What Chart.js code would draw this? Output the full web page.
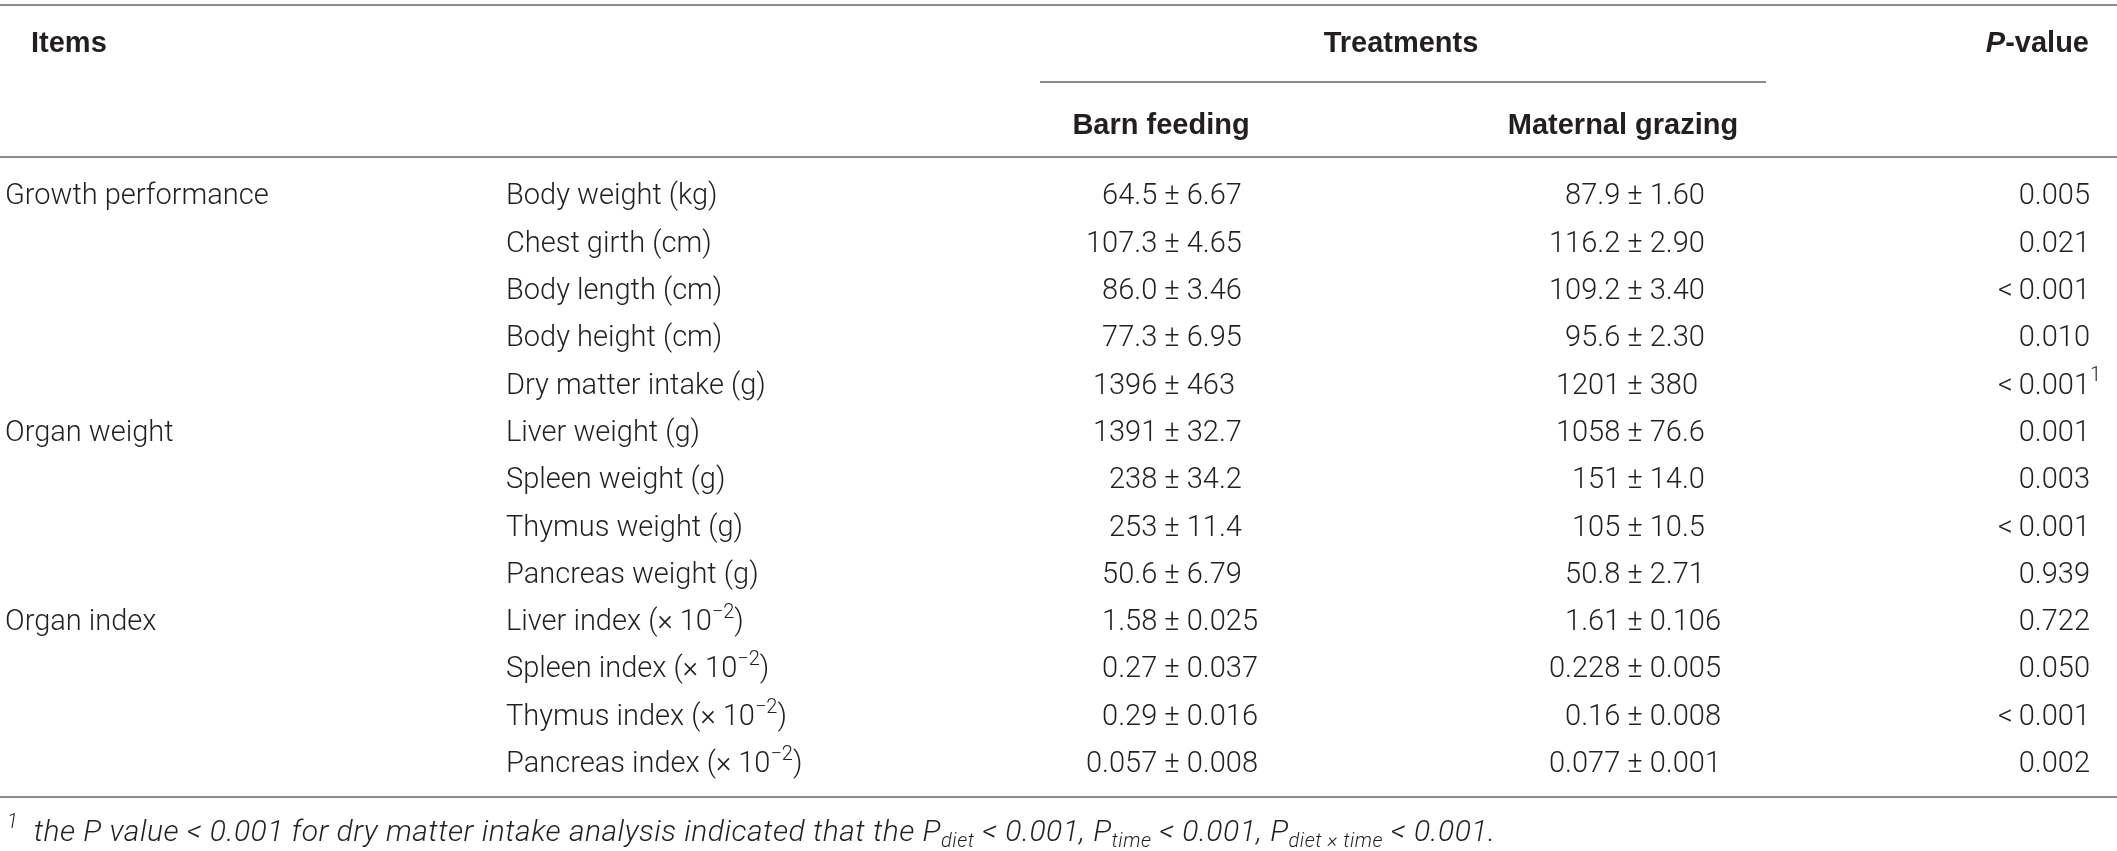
<!DOCTYPE html>
<html><head><meta charset="utf-8">
<script src="https://cdn.jsdelivr.net/npm/chart.js@4.4.1/dist/chart.umd.min.js"></script>
<style>html,body{margin:0;padding:0;background:#fff}#wrap{width:2117px;height:851px;position:relative}</style>
</head><body><div id="wrap"><canvas id="c"></canvas></div>
<script>
// ---- data ----
const groups = ["Growth performance", "", "", "", "", "Organ weight", "", "", "", "Organ index", "", "", ""];
const items = ["Body weight (kg)", "Chest girth (cm)", "Body length (cm)", "Body height (cm)", "Dry matter intake (g)",
  "Liver weight (g)", "Spleen weight (g)", "Thymus weight (g)", "Pancreas weight (g)",
  "Liver index (× 10^{−2})", "Spleen index (× 10^{−2})", "Thymus index (× 10^{−2})", "Pancreas index (× 10^{−2})"];
const barnFeeding = ["64.5 ± 6.67", "107.3 ± 4.65", "86.0 ± 3.46", "77.3 ± 6.95", "1396 ± 463",
  "1391 ± 32.7", "238 ± 34.2", "253 ± 11.4", "50.6 ± 6.79",
  "1.58 ± 0.025", "0.27 ± 0.037", "0.29 ± 0.016", "0.057 ± 0.008"];
const maternalGrazing = ["87.9 ± 1.60", "116.2 ± 2.90", "109.2 ± 3.40", "95.6 ± 2.30", "1201 ± 380",
  "1058 ± 76.6", "151 ± 14.0", "105 ± 10.5", "50.8 ± 2.71",
  "1.61 ± 0.106", "0.228 ± 0.005", "0.16 ± 0.008", "0.077 ± 0.001"];
const pValues = ["0.005", "0.021", "<\u20090.001", "0.010", "<\u20090.001^{1}",
  "0.001", "0.003", "<\u20090.001", "0.939",
  "0.722", "0.050", "<\u20090.001", "0.002"];
const headerTop = ["Items", "Treatments", "*P*-value"];
const headerSub = ["Barn feeding", "Maternal grazing"];
const footnote = "*^{1}  the P value < 0.001 for dry matter intake analysis indicated that the P_{diet} < 0.001, P_{time} < 0.001, P_{diet × time} < 0.001.*";

// ---- layout (positions in scale units: x = px columns, y = row units) ----
const layout = {
  colGroup: 5, colItem: 506, colBarn: 1172, colMat: 1635, colP: 2090,
  headTopX: [31, 1401, 2089], headTopAlign: ['left', 'center', 'right'], headTopY: -3.23,
  headSubX: [1161, 1623], headSubY: -1.48,
  ruleTop: -4.0, ruleShort: -2.37, ruleShortX: [1040, 1766], ruleHead: -0.78, ruleBottom: 12.75,
  footX: 7, footY: 13.45
};
const style = {
  family: 'Roboto, "Liberation Sans", Arial, sans-serif', weight: '300',
  boldFamily: '"Liberation Sans", Arial, Helvetica, sans-serif',
  size: 29, footSize: 30, footSpacing: '0.5px', color: '#231f20', rule: '#8c8c8c', ruleW: 2
};

function parse(s) {
  const segs = []; let italic = false, i = 0, buf = '';
  const push = (t, mode) => { if (t) segs.push({ t, mode, italic }); };
  while (i < s.length) {
    const ch = s[i];
    if (ch === '*') { push(buf, 'base'); buf = ''; italic = !italic; i++; }
    else if ((ch === '^' || ch === '_') && s[i + 1] === '{') {
      push(buf, 'base'); buf = '';
      const j = s.indexOf('}', i);
      push(s.slice(i + 2, j), ch === '^' ? 'sup' : 'sub'); i = j + 1;
    } else { buf += ch; i++; }
  }
  push(buf, 'base');
  return segs;
}
function fontFor(seg, size, bold) {
  const sz = seg.mode === 'base' ? size : Math.round(size * 0.68);
  return (seg.italic ? 'italic ' : '') + (bold ? 'bold ' : style.weight + ' ') + sz + 'px ' + (bold ? style.boldFamily : style.family);
}
function richWidth(ctx, segs, size, bold) {
  let w = 0;
  for (const s of segs) { ctx.font = fontFor(s, size, bold); w += ctx.measureText(s.t).width; }
  return w;
}
function drawRich(ctx, str, x, yc, align, size, bold, anchor, spacing) {
  ctx.save();
  if (spacing && 'letterSpacing' in ctx) ctx.letterSpacing = spacing;
  const segs = parse(str);
  let x0 = x;
  if (anchor !== undefined) x0 = x - anchor;
  else {
    const w = richWidth(ctx, segs, size, bold);
    if (align === 'center') x0 = x - w / 2;
    else if (align === 'right') {
      const trailing = [];
      for (let k = segs.length - 1; k >= 0 && segs[k].mode !== 'base'; k--) trailing.push(segs[k]);
      x0 = x - (w - richWidth(ctx, trailing, size, bold));
    }
  }
  const baseY = yc + size * 0.36;
  ctx.fillStyle = style.color; ctx.textBaseline = 'alphabetic'; ctx.textAlign = 'left';
  for (const s of segs) {
    ctx.font = fontFor(s, size, bold);
    let yy = baseY;
    if (s.mode === 'sup') yy = baseY - size * 0.42;
    if (s.mode === 'sub') yy = baseY + size * 0.2;
    ctx.fillText(s.t, x0, yy);
    x0 += ctx.measureText(s.t).width;
  }
  ctx.restore();
}
function pmOffset(ctx, str, size) {
  const k = str.indexOf('±');
  ctx.font = style.weight + ' ' + size + 'px ' + style.family;
  return ctx.measureText(str.slice(0, k)).width + ctx.measureText('±').width / 2;
}

const rows = items.map((_, i) => i);
const mk = (x, arr, kind, align) => ({
  label: kind, kind, align, texts: arr,
  data: arr.map((_, i) => ({ x, y: rows[i] })),
  pointRadius: 0, pointHoverRadius: 0, showLine: false
});

const tablePlugin = {
  id: 'table',
  afterDatasetsDraw(chart) {
    const ctx = chart.ctx, xs = chart.scales.x, ys = chart.scales.y;
    ctx.save();
    ctx.strokeStyle = style.rule; ctx.lineWidth = style.ruleW;
    const hline = (yv, xa, xb) => {
      const y = Math.round(ys.getPixelForValue(yv));
      ctx.beginPath(); ctx.moveTo(xs.getPixelForValue(xa), y); ctx.lineTo(xs.getPixelForValue(xb), y); ctx.stroke();
    };
    hline(layout.ruleTop, 0, 2117);
    hline(layout.ruleShort, layout.ruleShortX[0], layout.ruleShortX[1]);
    hline(layout.ruleHead, 0, 2117);
    hline(layout.ruleBottom, 0, 2117);
    headerTop.forEach((t, i) => drawRich(ctx, t, xs.getPixelForValue(layout.headTopX[i]), ys.getPixelForValue(layout.headTopY), layout.headTopAlign[i], 29, true));
    headerSub.forEach((t, i) => drawRich(ctx, t, xs.getPixelForValue(layout.headSubX[i]), ys.getPixelForValue(layout.headSubY), 'center', 29, true));
    chart.data.datasets.forEach((ds, di) => {
      const meta = chart.getDatasetMeta(di);
      meta.data.forEach((el, i) => {
        const t = ds.texts[i]; if (!t) return;
        if (ds.align === 'pm') drawRich(ctx, t, el.x, el.y, 'left', style.size, false, pmOffset(ctx, t, style.size));
        else drawRich(ctx, t, el.x, el.y, ds.align, style.size, false);
      });
    });
    drawRich(ctx, footnote, xs.getPixelForValue(layout.footX), ys.getPixelForValue(layout.footY), 'left', style.footSize, false, undefined, style.footSpacing);
    ctx.restore();
  }
};

new Chart(document.getElementById('c'), {
  type: 'scatter',
  data: {
    datasets: [
      mk(layout.colGroup, groups, 'group', 'left'),
      mk(layout.colItem, items, 'item', 'left'),
      mk(layout.colBarn, barnFeeding, 'barn', 'pm'),
      mk(layout.colMat, maternalGrazing, 'maternal', 'pm'),
      mk(layout.colP, pValues, 'p', 'right')
    ]
  },
  options: {
    responsive: true, maintainAspectRatio: false, animation: false, devicePixelRatio: 1,
    layout: { padding: 0 },
    events: [],
    plugins: { legend: { display: false }, tooltip: { enabled: false } },
    scales: {
      x: { type: 'linear', min: 0, max: 2117, display: false },
      y: { type: 'linear', min: -4.10, max: 13.89, reverse: true, display: false }
    }
  },
  plugins: [tablePlugin]
});
</script></body></html>
